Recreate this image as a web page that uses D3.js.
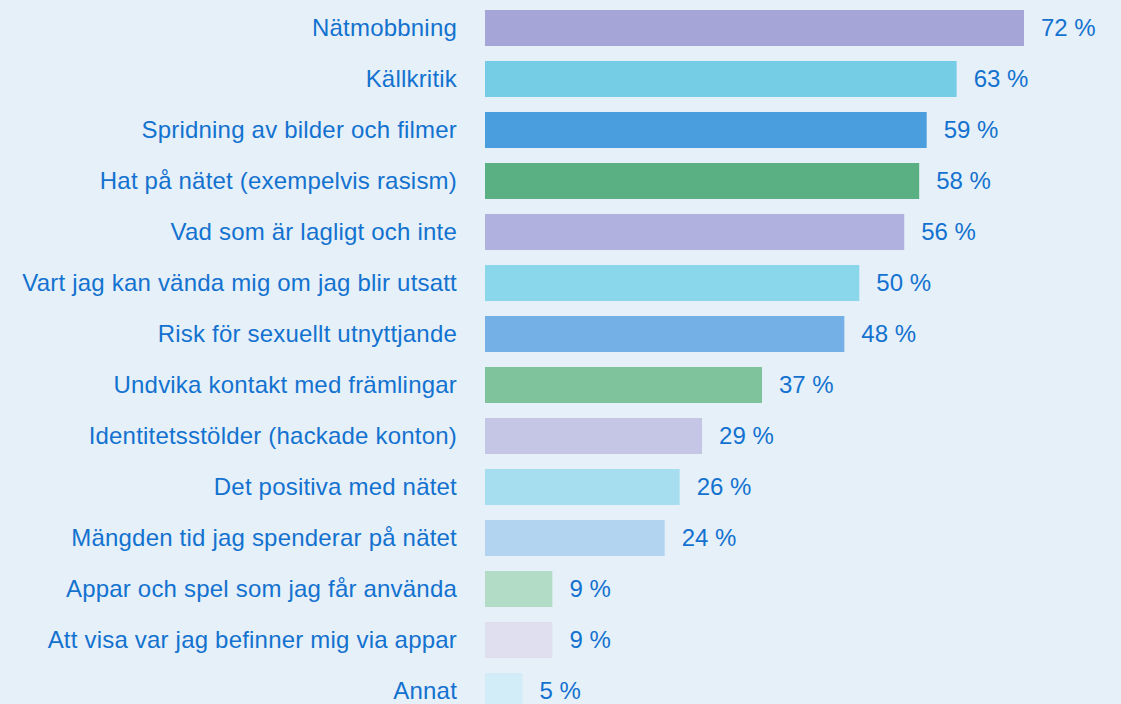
<!DOCTYPE html>
<html>
<head>
<meta charset="utf-8">
<script src="https://cdn.jsdelivr.net/npm/d3@7"></script>
<style>
  html, body { margin: 0; padding: 0; background: #e6f0f9; }
  svg { display: block; }
</style>
</head>
<body>
<div id="chart"></div>
<script>
// answers, top to bottom
const categories = [
  "Nätmobbning",
  "Källkritik",
  "Spridning av bilder och filmer",
  "Hat på nätet (exempelvis rasism)",
  "Vad som är lagligt och inte",
  "Vart jag kan vända mig om jag blir utsatt",
  "Risk för sexuellt utnyttjande",
  "Undvika kontakt med främlingar",
  "Identitetsstölder (hackade konton)",
  "Det positiva med nätet",
  "Mängden tid jag spenderar på nätet",
  "Appar och spel som jag får använda",
  "Att visa var jag befinner mig via appar",
  "Annat"
];
const values = [72, 63, 59, 58, 56, 50, 48, 37, 29, 26, 24, 9, 9, 5];
const barColors = [
  "#a5a5d8", "#74cde4", "#4a9ede", "#5ab083",
  "#b0b1de", "#8ad6eb", "#74b0e5", "#7ec39c",
  "#c5c6e6", "#a6deef", "#b3d4f0", "#b3dcc6",
  "#dfdff0", "#d2edf7"
];

const width = 1121, height = 704;
const textColor = "#1372cf";
const fontSize = 24;

const svg = d3.select("#chart").append("svg")
  .attr("width", width)
  .attr("height", height)
  .style("font-family", "'Liberation Sans', Arial, sans-serif");

const x = d3.scaleLinear()
  .domain([0, 72])
  .range([485, 1024]);

const step = 51;
const y = d3.scaleBand()
  .domain(categories)
  .range([2.5, 2.5 + step * categories.length])
  .paddingInner(15 / 51)
  .paddingOuter(7.5 / 51);

const rows = svg.selectAll(".row")
  .data(categories)
  .enter().append("g")
  .attr("class", "row");

rows.append("rect")
  .attr("x", x(0))
  .attr("y", d => y(d))
  .attr("width", (d, i) => x(values[i]) - x(0))
  .attr("height", y.bandwidth())
  .attr("fill", (d, i) => barColors[i]);

// category labels
rows.append("text")
  .attr("x", x(0) - 28)
  .attr("y", d => y(d) + y.bandwidth() / 2)
  .attr("dy", "0.35em")
  .attr("text-anchor", "end")
  .attr("fill", textColor)
  .style("font-size", fontSize + "px")
  .style("letter-spacing", "0.2px")
  .text(d => d);

// value labels
rows.append("text")
  .attr("x", (d, i) => x(values[i]) + 17)
  .attr("y", d => y(d) + y.bandwidth() / 2)
  .attr("dy", "0.35em")
  .attr("fill", textColor)
  .style("font-size", fontSize + "px")
  .text((d, i) => values[i] + " %");
</script>
</body>
</html>
